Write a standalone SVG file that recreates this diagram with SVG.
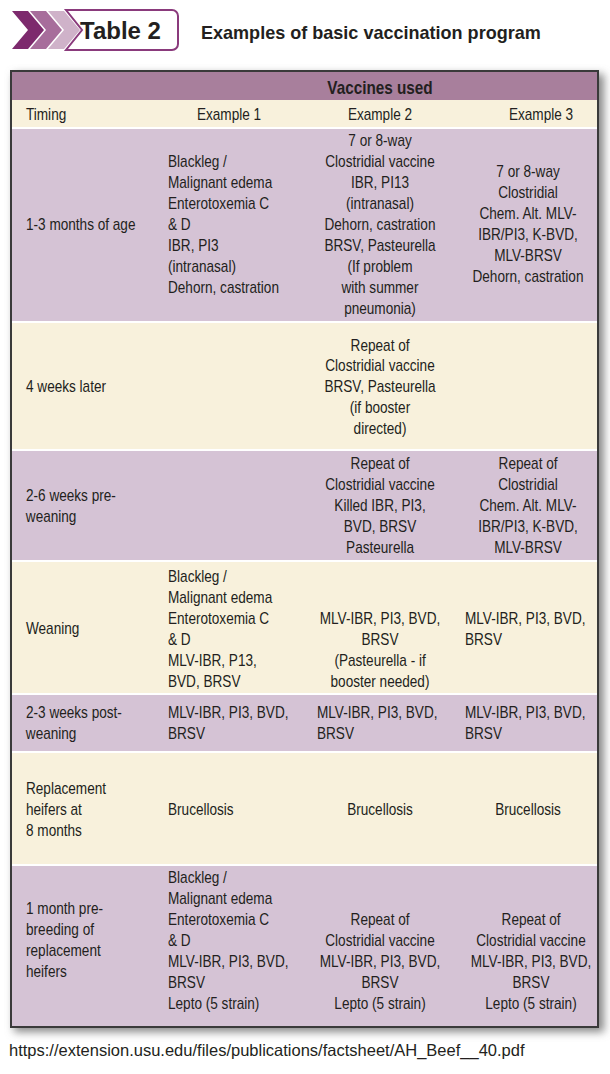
<svg xmlns="http://www.w3.org/2000/svg" width="610" height="1074" viewBox="0 0 610 1074">
<defs>
<filter id="sh" x="-5%" y="-5%" width="115%" height="115%"><feGaussianBlur stdDeviation="4"/></filter>
</defs>
<style>
text{font-family:"Liberation Sans Narrow","Liberation Sans",Arial,sans-serif;font-size:16px;fill:#231f20;transform-box:fill-box;transform-origin:left center;transform:scaleX(0.85)}
.c{text-anchor:middle;transform-origin:center center}
.n{transform:none}
.p{fill:#d5c3d5}.y{fill:#f8f1dc}
.sep{stroke:#fff;stroke-width:2}
</style>
<rect width="610" height="1074" fill="#fff"/>
<g id="title">
<polygon points="12,11 28,11 44,30 28,49 12,49 28,30" fill="#7d2a6d"/>
<polygon points="30,11 46,11 62,30 46,49 30,49 46,30" fill="#a76d9b"/>
<polygon points="48,11 64,11 80,30 64,49 48,49 64,30" fill="#cfb2c9"/>
<path d="M66,10 H172 a6,6 0 0 1 6,6 V44 a6,6 0 0 1 -6,6 H66 L82,30 Z" fill="#fff" stroke="#8a3a7c" stroke-width="2"/>
<text x="80" y="39" class="n" style="font-family:'Liberation Sans',Arial,sans-serif;font-size:24px;font-weight:bold">Table 2</text>
<text x="201" y="39" style="font-size:19px;font-weight:bold;transform:scaleX(0.95)">Examples of basic vaccination program</text>
</g>
<rect x="14" y="74" width="590" height="958" fill="#888" filter="url(#sh)"/>
<g id="table">
<rect x="11" y="71" width="587" height="956" fill="#fff" stroke="#3a3a3a" stroke-width="2"/>
<rect x="12" y="72" width="585" height="28" fill="#a87f9c"/>
<rect x="12" y="100" width="585" height="28" class="y"/>
<rect x="12" y="128" width="585" height="194" class="p"/>
<rect x="12" y="322" width="585" height="128" class="y"/>
<rect x="12" y="450" width="585" height="111" class="p"/>
<rect x="12" y="561" width="585" height="133" class="y"/>
<rect x="12" y="694" width="585" height="58" class="p"/>
<rect x="12" y="752" width="585" height="113" class="y"/>
<rect x="12" y="865" width="585" height="161" class="p"/>
<g class="sep"><line x1="12" y1="128" x2="597" y2="128"/><line x1="12" y1="322" x2="597" y2="322"/><line x1="12" y1="450" x2="597" y2="450"/><line x1="12" y1="561" x2="597" y2="561"/><line x1="12" y1="694" x2="597" y2="694"/><line x1="12" y1="752" x2="597" y2="752"/><line x1="12" y1="865" x2="597" y2="865"/></g>
</g>
<g id="header">
<text x="380" y="94" class="c" style="font-weight:bold;font-size:18px">Vaccines used</text>
<text x="26" y="120">Timing</text>
<text x="229" y="120" class="c">Example 1</text>
<text x="380" y="120" class="c">Example 2</text>
<text x="541" y="120" class="c">Example 3</text>
</g>
<g id="row1">
<text x="26" y="230">1-3 months of age</text>
<text x="168" y="167">Blackleg /</text><text x="168" y="188">Malignant edema</text><text x="168" y="209">Enterotoxemia C</text><text x="168" y="230">&amp; D</text><text x="168" y="251">IBR, PI3</text><text x="168" y="272">(intranasal)</text><text x="168" y="293">Dehorn, castration</text>
<g><text class="c" x="380" y="146">7 or 8-way</text><text class="c" x="380" y="167">Clostridial vaccine</text><text class="c" x="380" y="188">IBR, PI13</text><text class="c" x="380" y="209">(intranasal)</text><text class="c" x="380" y="230">Dehorn, castration</text><text class="c" x="380" y="251">BRSV, Pasteurella</text><text class="c" x="380" y="272">(If problem</text><text class="c" x="380" y="293">with summer</text><text class="c" x="380" y="314">pneumonia)</text></g>
<g><text class="c" x="528" y="177">7 or 8-way</text><text class="c" x="528" y="198">Clostridial</text><text class="c" x="528" y="219">Chem. Alt. MLV-</text><text class="c" x="528" y="240">IBR/PI3, K-BVD,</text><text class="c" x="528" y="261">MLV-BRSV</text><text class="c" x="528" y="282">Dehorn, castration</text></g>
</g>
<g id="row2">
<text x="26" y="392">4 weeks later</text>
<g><text class="c" x="380" y="351">Repeat of</text><text class="c" x="380" y="371">Clostridial vaccine</text><text class="c" x="380" y="392">BRSV, Pasteurella</text><text class="c" x="380" y="413">(if booster</text><text class="c" x="380" y="434">directed)</text></g>
</g>
<g id="row3">
<text x="26" y="501">2-6 weeks pre-</text><text x="26" y="522">weaning</text>
<g><text class="c" x="380" y="469">Repeat of</text><text class="c" x="380" y="490">Clostridial vaccine</text><text class="c" x="380" y="511">Killed IBR, PI3,</text><text class="c" x="380" y="532">BVD, BRSV</text><text class="c" x="380" y="553">Pasteurella</text></g>
<g><text class="c" x="528" y="469">Repeat of</text><text class="c" x="528" y="490">Clostridial</text><text class="c" x="528" y="511">Chem. Alt. MLV-</text><text class="c" x="528" y="532">IBR/PI3, K-BVD,</text><text class="c" x="528" y="553">MLV-BRSV</text></g>
</g>
<g id="row4">
<text x="26" y="634">Weaning</text>
<text x="168" y="582">Blackleg /</text><text x="168" y="603">Malignant edema</text><text x="168" y="624">Enterotoxemia C</text><text x="168" y="645">&amp; D</text><text x="168" y="666">MLV-IBR, P13,</text><text x="168" y="687">BVD, BRSV</text>
<g><text class="c" x="380" y="624">MLV-IBR, PI3, BVD,</text><text class="c" x="380" y="645">BRSV</text><text class="c" x="380" y="666">(Pasteurella - if</text><text class="c" x="380" y="687">booster needed)</text></g>
<text x="465" y="624">MLV-IBR, PI3, BVD,</text><text x="465" y="645">BRSV</text>
</g>
<g id="row5">
<text x="26" y="718">2-3 weeks post-</text><text x="26" y="739">weaning</text>
<text x="168" y="718">MLV-IBR, PI3, BVD,</text><text x="168" y="739">BRSV</text>
<text x="317" y="718">MLV-IBR, PI3, BVD,</text><text x="317" y="739">BRSV</text>
<text x="465" y="718">MLV-IBR, PI3, BVD,</text><text x="465" y="739">BRSV</text>
</g>
<g id="row6">
<text x="26" y="794">Replacement</text><text x="26" y="815">heifers at</text><text x="26" y="836">8 months</text>
<text x="168" y="815">Brucellosis</text>
<text x="380" y="815" class="c">Brucellosis</text>
<text x="528" y="815" class="c">Brucellosis</text>
</g>
<g id="row7">
<text x="26" y="914">1 month pre-</text><text x="26" y="935">breeding of</text><text x="26" y="956">replacement</text><text x="26" y="977">heifers</text>
<text x="168" y="883">Blackleg /</text><text x="168" y="904">Malignant edema</text><text x="168" y="925">Enterotoxemia C</text><text x="168" y="946">&amp; D</text><text x="168" y="967">MLV-IBR, PI3, BVD,</text><text x="168" y="988">BRSV</text><text x="168" y="1009">Lepto (5 strain)</text>
<g><text class="c" x="380" y="925">Repeat of</text><text class="c" x="380" y="946">Clostridial vaccine</text><text class="c" x="380" y="967">MLV-IBR, PI3, BVD,</text><text class="c" x="380" y="988">BRSV</text><text class="c" x="380" y="1009">Lepto (5 strain)</text></g>
<g><text class="c" x="531" y="925">Repeat of</text><text class="c" x="531" y="946">Clostridial vaccine</text><text class="c" x="531" y="967">MLV-IBR, PI3, BVD,</text><text class="c" x="531" y="988">BRSV</text><text class="c" x="531" y="1009">Lepto (5 strain)</text></g>
</g>
<text x="9" y="1056" class="n" style="font-family:'Liberation Sans',Arial,sans-serif;font-size:16.5px">https://extension.usu.edu/files/publications/factsheet/AH_Beef__40.pdf</text>
</svg>
